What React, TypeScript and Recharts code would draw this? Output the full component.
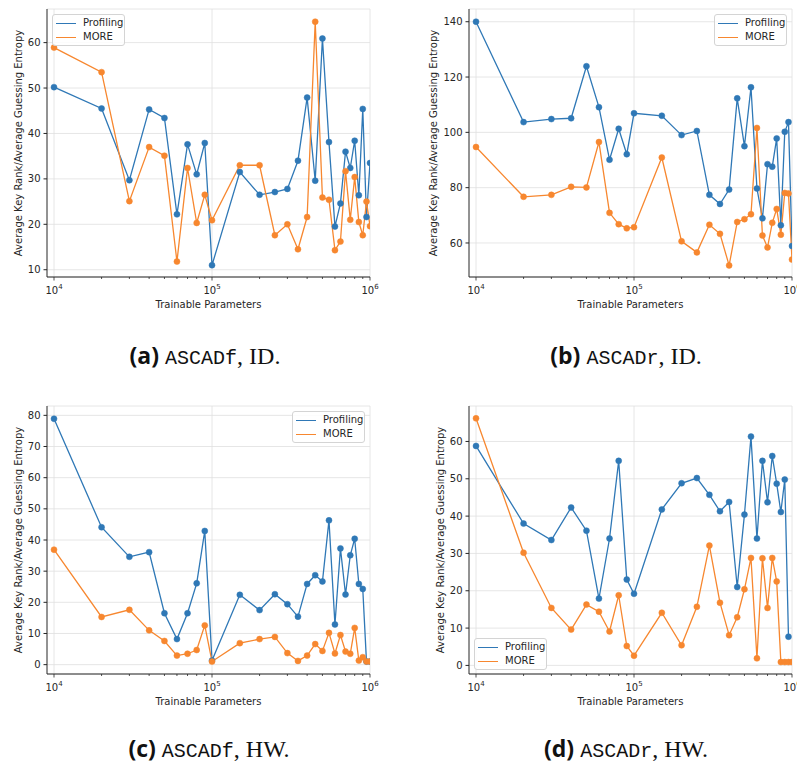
import React from 'react';
import { LineChart, Line, XAxis, YAxis, CartesianGrid, Legend } from 'recharts';

const BLUE = '#2f78b6';
const ORANGE = '#f7872f';
const INK = '#262626';
const GRID = '#e0e0e0';

const SERIES_ORDER = ['Profiling', 'MORE'];

// trainable parameters (x)
const PARAMS = [
  1e4, 2e4, 3e4, 4e4, 5e4, 6e4, 7e4, 8e4, 9e4, 1e5,
  1.5e5, 2e5, 2.5e5, 3e5, 3.5e5, 4e5, 4.5e5, 5e5, 5.5e5, 6e5,
  6.5e5, 7e5, 7.5e5, 8e5, 8.5e5, 9e5, 9.5e5, 1e6,
];
const MAJOR_TICKS = [1e4, 1e5, 1e6];
const X_TICKS = [1e4, 2e4, 3e4, 4e4, 5e4, 6e4, 7e4, 8e4, 9e4, 1e5, 2e5, 3e5, 4e5, 5e5, 6e5, 7e5, 8e5, 9e5, 1e6];

// (a) ASCADf, ID
const A_PROFILING = [50.2, 45.5, 29.7, 45.3, 43.4, 22.2, 37.6, 31.0, 37.9, 11.0, 31.5, 26.5, 27.1, 27.8, 34.0, 47.9, 29.6, 60.9, 38.1, 19.5, 24.6, 36.0, 32.4, 38.4, 26.4, 45.4, 21.6, 33.5];
const A_MORE = [58.9, 53.5, 25.1, 37.0, 35.1, 11.8, 32.4, 20.3, 26.5, 20.9, 33.0, 33.0, 17.6, 20.0, 14.5, 21.6, 64.6, 25.9, 25.4, 14.3, 16.2, 31.7, 21.0, 30.4, 20.5, 17.6, 25.0, 19.6];
const A_Y_TICKS = [10, 20, 30, 40, 50, 60];

// (b) ASCADr, ID
const B_PROFILING = [140.0, 103.7, 104.8, 105.1, 123.9, 109.1, 90.1, 101.3, 92.1, 106.9, 106.0, 99.0, 100.5, 77.4, 74.1, 79.3, 112.3, 95.0, 116.3, 79.7, 68.9, 88.5, 87.6, 97.8, 66.4, 100.2, 103.7, 58.9];
const B_MORE = [94.7, 76.7, 77.4, 80.3, 80.1, 96.5, 70.9, 66.8, 65.3, 65.7, 90.9, 60.6, 56.6, 66.6, 63.3, 51.9, 67.6, 68.6, 70.4, 101.6, 62.7, 58.4, 67.3, 72.3, 63.0, 78.1, 77.9, 54.0];
const B_Y_TICKS = [60, 80, 100, 120, 140];

// (c) ASCADf, HW
const C_PROFILING = [78.9, 44.1, 34.6, 36.1, 16.5, 8.2, 16.5, 26.1, 42.9, 1.3, 22.4, 17.5, 22.6, 19.4, 15.4, 25.9, 28.7, 26.7, 46.3, 12.9, 37.3, 22.5, 35.1, 40.4, 25.9, 24.3, 1.0, 1.0];
const C_MORE = [36.9, 15.3, 17.6, 11.0, 7.6, 2.9, 3.5, 4.7, 12.6, 1.0, 6.9, 8.2, 8.9, 3.7, 1.2, 2.9, 6.6, 4.4, 10.2, 3.6, 9.5, 4.2, 3.5, 11.8, 1.3, 2.4, 1.0, 1.0];
const C_Y_TICKS = [0, 10, 20, 30, 40, 50, 60, 70, 80];

// (d) ASCADr, HW
const D_PROFILING = [58.8, 38.0, 33.6, 42.3, 36.1, 17.9, 34.0, 54.8, 23.0, 19.2, 41.8, 48.8, 50.2, 45.7, 41.3, 43.8, 21.0, 40.4, 61.3, 34.0, 54.8, 43.7, 56.1, 48.7, 41.1, 49.8, 7.7, null];
const D_MORE = [66.2, 30.2, 15.4, 9.6, 16.3, 14.4, 9.1, 18.8, 5.2, 2.6, 14.1, 5.4, 15.7, 32.1, 16.8, 8.1, 12.9, 20.4, 28.8, 1.9, 28.7, 15.4, 28.8, 22.5, 0.9, 0.9, 0.9, 0.9];
const D_Y_TICKS = [0, 10, 20, 30, 40, 50, 60];

const X_DOMAIN = [9030, 1e6];

const PANELS = [
  { key: 'a', left: 0, top: 0, width: 385, prof: A_PROFILING, more: A_MORE, yDomain: [8.4, 67.4], yTicks: A_Y_TICKS, yLabelX: 18, legend: { left: 52, top: 14 }, tag: '(a)', dataset: 'ASCADf', model: 'ID.', cx: 205, cy: 355 },
  { key: 'b', left: 422, top: 0, width: 375, prof: B_PROFILING, more: B_MORE, yDomain: [47.7, 144.6], yTicks: B_Y_TICKS, yLabelX: 11, legend: { left: 292, top: 14 }, tag: '(b)', dataset: 'ASCADr', model: 'ID.', cx: 626, cy: 355 },
  { key: 'c', left: 0, top: 397, width: 385, prof: C_PROFILING, more: C_MORE, yDomain: [-3.0, 83.0], yTicks: C_Y_TICKS, yLabelX: 18, legend: { left: 292, top: 14 }, tag: '(c)', dataset: 'ASCADf', model: 'HW.', cx: 209, cy: 748 },
  { key: 'd', left: 422, top: 397, width: 375, prof: D_PROFILING, more: D_MORE, yDomain: [-2.3, 69.5], yTicks: D_Y_TICKS, yLabelX: 18, legend: { left: 52, top: 241 }, tag: '(d)', dataset: 'ASCADr', model: 'HW.', cx: 626, cy: 748 },
];

const FONT = '"DejaVu Sans", sans-serif';

const LogTick = (props: any) => {
  const { x, y, payload } = props;
  const v = payload.value;
  const exp = Math.round(Math.log10(v));
  const major = MAJOR_TICKS.includes(v);
  return (
    <g>
      <line x1={x} x2={x} y1={y} y2={y + (major ? 3.5 : 2)} stroke={INK} strokeWidth={0.8} />
      {major && (
        <text x={x} y={y + 16.5} textAnchor="middle" fontSize={10} fill={INK} fontFamily={FONT}>
          <tspan>10</tspan>
          <tspan dy={-4.5} fontSize={7}>{exp}</tspan>
        </text>
      )}
    </g>
  );
};

const YLabel = ({ viewBox, labelX }: any) => {
  const cx = viewBox.x + labelX;
  const cy = viewBox.y + viewBox.height / 2;
  return (
    <text x={cx} y={cy} transform={`rotate(-90 ${cx} ${cy})`} textAnchor="middle" dominantBaseline="central" fontSize={10} fill={INK} fontFamily={FONT}>
      Average Key Rank/Average Guessing Entropy
    </text>
  );
};

const LegendBox = ({ payload }: any) => {
  const items = [...(payload || [])].sort((a: any, b: any) => SERIES_ORDER.indexOf(a.value) - SERIES_ORDER.indexOf(b.value));
  return (
    <div style={{ width: 73, height: 32, boxSizing: 'border-box', border: '1px solid #d4d4d4', borderRadius: 3, background: 'rgba(255,255,255,0.85)', paddingTop: 1, fontFamily: FONT, fontSize: 10, color: INK }}>
      {items.map((p: any) => (
        <div key={p.value} style={{ display: 'flex', alignItems: 'center', height: 14, lineHeight: '14px' }}>
          <span style={{ display: 'inline-block', width: 20, height: 0, borderTop: `1.5px solid ${p.color}`, marginLeft: 3, marginRight: 7 }} />
          <span>{p.value}</span>
        </div>
      ))}
    </div>
  );
};

const Panel = ({ p }: any) => {
  const data = PARAMS.map((x, i) => ({ params: x, profiling: p.prof[i], more: p.more[i] }));
  return (
    <div style={{ position: 'absolute', left: p.left, top: p.top }}>
      <LineChart width={p.width} height={320} data={data} margin={{ top: 9, right: p.width - 370, bottom: 8, left: 0 }}>
        <CartesianGrid stroke={GRID} strokeWidth={0.8} verticalValues={MAJOR_TICKS} />
        <XAxis
          dataKey="params"
          type="number"
          scale="log"
          domain={X_DOMAIN}
          allowDataOverflow
          ticks={X_TICKS}
          interval={0}
          tick={<LogTick />}
          tickLine={false}
          tickSize={0}
          tickMargin={0}
          height={35}
          stroke={INK}
          label={{ value: 'Trainable Parameters', position: 'insideBottom', offset: 4, fontSize: 10, fill: INK, fontFamily: FONT }}
        />
        <XAxis xAxisId="top" orientation="top" dataKey="params" type="number" scale="log" domain={X_DOMAIN} allowDataOverflow height={0} tick={false} tickLine={false} stroke={INK} />
        <YAxis
          type="number"
          domain={p.yDomain}
          allowDataOverflow
          ticks={p.yTicks}
          interval={0}
          width={47}
          tickSize={3.5}
          tickMargin={3}
          stroke={INK}
          tick={{ fontSize: 10, fill: INK, fontFamily: FONT }}
          label={<YLabel labelX={p.yLabelX} />}
        />
        <YAxis yAxisId="right" orientation="right" type="number" domain={p.yDomain} width={0} tick={false} tickLine={false} stroke={INK} />
        <Line name="Profiling" dataKey="profiling" type="linear" stroke={BLUE} strokeWidth={1.3} dot={{ r: 3, fill: BLUE, stroke: BLUE, strokeWidth: 0.5 }} activeDot={false} isAnimationActive={false} />
        <Line name="MORE" dataKey="more" type="linear" stroke={ORANGE} strokeWidth={1.3} dot={{ r: 3, fill: ORANGE, stroke: ORANGE, strokeWidth: 0.5 }} activeDot={false} isAnimationActive={false} />
        <Legend layout="vertical" align="center" verticalAlign="middle" content={<LegendBox />} wrapperStyle={{ left: p.legend.left, top: p.legend.top, width: 73, height: 32 }} />
      </LineChart>
    </div>
  );
};

const Caption = ({ p }: any) => (
  <div style={{ position: 'absolute', left: p.cx - 150, top: p.cy - 15, width: 300, height: 30, lineHeight: '30px', textAlign: 'center', whiteSpace: 'nowrap', color: '#111' }}>
    <span style={{ fontFamily: '"Open Sans", sans-serif', fontWeight: 700, fontSize: 23 }}>{p.tag}</span>
    <span style={{ fontFamily: '"Liberation Mono", monospace', fontSize: 20, marginLeft: 6 }}>{p.dataset}</span>
    <span style={{ fontFamily: '"Liberation Serif", serif', fontSize: 24 }}>, {p.model}</span>
  </div>
);

export default function App() {
  return (
    <div style={{ position: 'absolute', left: 0, top: 0, width: 797, height: 765, overflow: 'hidden', background: '#fff' }}>
      {PANELS.map((p) => (
        <React.Fragment key={p.key}>
          <Panel p={p} />
          <Caption p={p} />
        </React.Fragment>
      ))}
    </div>
  );
}
